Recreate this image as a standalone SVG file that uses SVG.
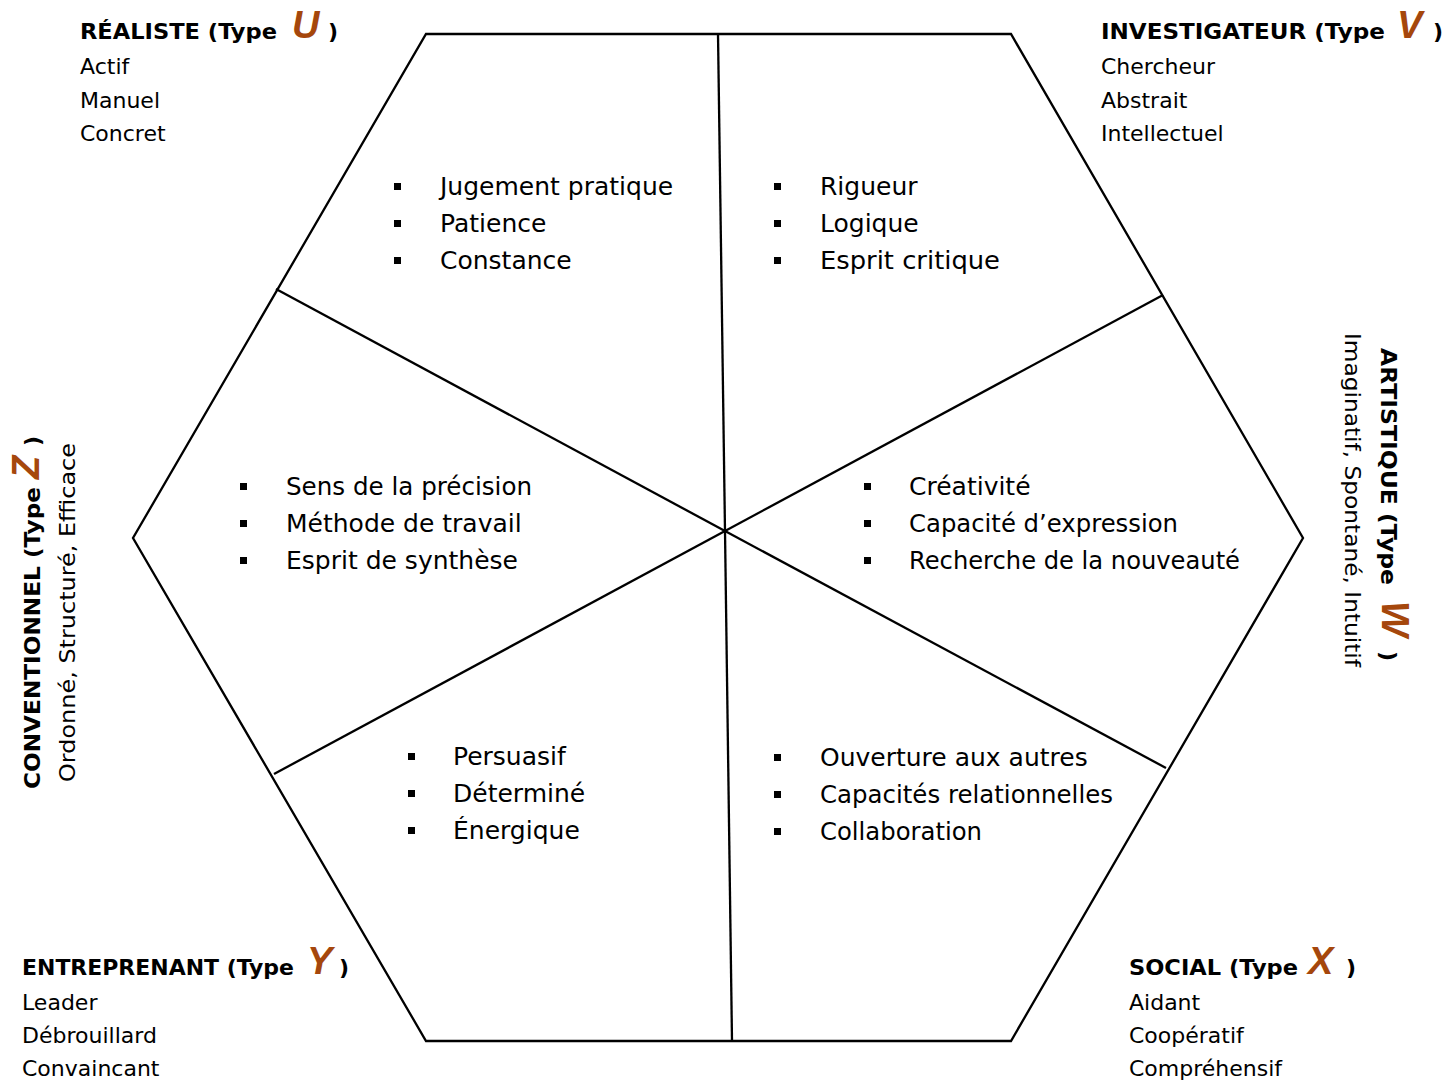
<svg xmlns="http://www.w3.org/2000/svg" width="1447" height="1080" viewBox="0 0 1447 1080">
<style>
text{font-family:"DejaVu Sans","Open Sans",sans-serif;fill:#000}
.h{font-weight:bold;font-size:22px}
.s{font-size:22px}
.i{font-size:25px}
.L{font-family:"Liberation Sans",Arial,sans-serif;font-weight:bold;font-style:italic;font-size:38px;fill:#A5470C}
.ln{stroke:#000;stroke-width:2.3;fill:none}
</style>
<rect width="1447" height="1080" fill="#fff"/>
<g id="connectors">
<polygon class="ln" points="426,34 1011,34 1303,538 1011,1041 426,1041 133,538"/>
<line class="ln" x1="725" y1="531" x2="718" y2="34"/>
<line class="ln" x1="725" y1="531" x2="732" y2="1041"/>
<line class="ln" x1="725" y1="531" x2="276" y2="289"/>
<line class="ln" x1="725" y1="531" x2="1163" y2="295"/>
<line class="ln" x1="725" y1="531" x2="274" y2="774"/>
<line class="ln" x1="725" y1="531" x2="1166" y2="768"/>
</g>
<g id="realiste">
<text class="h" x="80" y="39" textLength="197" lengthAdjust="spacingAndGlyphs">RÉALISTE (Type</text>
<text class="L" x="292" y="38">U</text>
<text class="h" x="328" y="39">)</text>
<text class="s" x="80" y="74">Actif</text>
<text class="s" x="80" y="108">Manuel</text>
<text class="s" x="80" y="141">Concret</text>
</g>
<g id="investigateur">
<text class="h" x="1101" y="39" textLength="284" lengthAdjust="spacingAndGlyphs">INVESTIGATEUR (Type</text>
<text class="L" x="1397" y="38">V</text>
<text class="h" x="1433" y="39">)</text>
<text class="s" x="1101" y="74">Chercheur</text>
<text class="s" x="1101" y="108">Abstrait</text>
<text class="s" x="1101" y="141">Intellectuel</text>
</g>
<g id="entreprenant">
<text class="h" x="22" y="975" textLength="272" lengthAdjust="spacingAndGlyphs">ENTREPRENANT (Type</text>
<text class="L" x="307" y="974">Y</text>
<text class="h" x="339" y="975">)</text>
<text class="s" x="22" y="1010">Leader</text>
<text class="s" x="22" y="1043">Débrouillard</text>
<text class="s" x="22" y="1076">Convaincant</text>
</g>
<g id="social">
<text class="h" x="1129" y="975" textLength="169" lengthAdjust="spacingAndGlyphs">SOCIAL (Type</text>
<text class="L" x="1308" y="974">X</text>
<text class="h" x="1346" y="975">)</text>
<text class="s" x="1129" y="1010">Aidant</text>
<text class="s" x="1129" y="1043">Coopératif</text>
<text class="s" x="1129" y="1076">Compréhensif</text>
</g>
<g id="conventionnel">
<g transform="translate(40,789) rotate(-90)">
<text class="h" x="0" y="0" textLength="302" lengthAdjust="spacingAndGlyphs">CONVENTIONNEL (Type</text>
<text class="L" x="310" y="-1">Z</text>
<text class="h" x="343" y="0">)</text>
</g>
<text class="s" transform="translate(75,782) rotate(-90)" x="0" y="0" textLength="339" lengthAdjust="spacingAndGlyphs">Ordonné, Structuré, Efficace</text>
</g>
<g id="artistique">
<g transform="translate(1381,348) rotate(90)">
<text class="h" x="0" y="0" textLength="237" lengthAdjust="spacingAndGlyphs">ARTISTIQUE (Type</text>
<text class="L" x="253" y="-1">W</text>
<text class="h" x="303" y="0">)</text>
</g>
<text class="s" transform="translate(1345,333) rotate(90)" x="0" y="0" textLength="334" lengthAdjust="spacingAndGlyphs">Imaginatif, Spontané, Intuitif</text>
</g>
<g id="cell-realiste">
<rect x="394" y="183" width="7" height="7"/><rect x="394" y="220" width="7" height="7"/><rect x="394" y="257" width="7" height="7"/>
<text class="i" x="440" y="195">Jugement pratique</text>
<text class="i" x="440" y="232">Patience</text>
<text class="i" x="440" y="269">Constance</text>
</g>
<g id="cell-investigateur">
<rect x="774" y="183" width="7" height="7"/><rect x="774" y="220" width="7" height="7"/><rect x="774" y="257" width="7" height="7"/>
<text class="i" x="820" y="195">Rigueur</text>
<text class="i" x="820" y="232">Logique</text>
<text class="i" x="820" y="269" textLength="180" lengthAdjust="spacingAndGlyphs">Esprit critique</text>
</g>
<g id="cell-conventionnel">
<rect x="240" y="483" width="7" height="7"/><rect x="240" y="520" width="7" height="7"/><rect x="240" y="557" width="7" height="7"/>
<text class="i" x="286" y="495" textLength="246" lengthAdjust="spacingAndGlyphs">Sens de la précision</text>
<text class="i" x="286" y="532">Méthode de travail</text>
<text class="i" x="286" y="569">Esprit de synthèse</text>
</g>
<g id="cell-artistique">
<rect x="864" y="483" width="7" height="7"/><rect x="864" y="520" width="7" height="7"/><rect x="864" y="557" width="7" height="7"/>
<text class="i" x="909" y="495">Créativité</text>
<text class="i" x="909" y="532" textLength="269" lengthAdjust="spacingAndGlyphs">Capacité d’expression</text>
<text class="i" x="909" y="569" textLength="331" lengthAdjust="spacingAndGlyphs">Recherche de la nouveauté</text>
</g>
<g id="cell-entreprenant">
<rect x="408" y="753" width="7" height="7"/><rect x="408" y="790" width="7" height="7"/><rect x="408" y="827" width="7" height="7"/>
<text class="i" x="453" y="765">Persuasif</text>
<text class="i" x="453" y="802">Déterminé</text>
<text class="i" x="453" y="839">Énergique</text>
</g>
<g id="cell-social">
<rect x="774" y="754" width="7" height="7"/><rect x="774" y="791" width="7" height="7"/><rect x="774" y="828" width="7" height="7"/>
<text class="i" x="820" y="766">Ouverture aux autres</text>
<text class="i" x="820" y="803" textLength="293" lengthAdjust="spacingAndGlyphs">Capacités relationnelles</text>
<text class="i" x="820" y="840" textLength="162" lengthAdjust="spacingAndGlyphs">Collaboration</text>
</g>
</svg>
